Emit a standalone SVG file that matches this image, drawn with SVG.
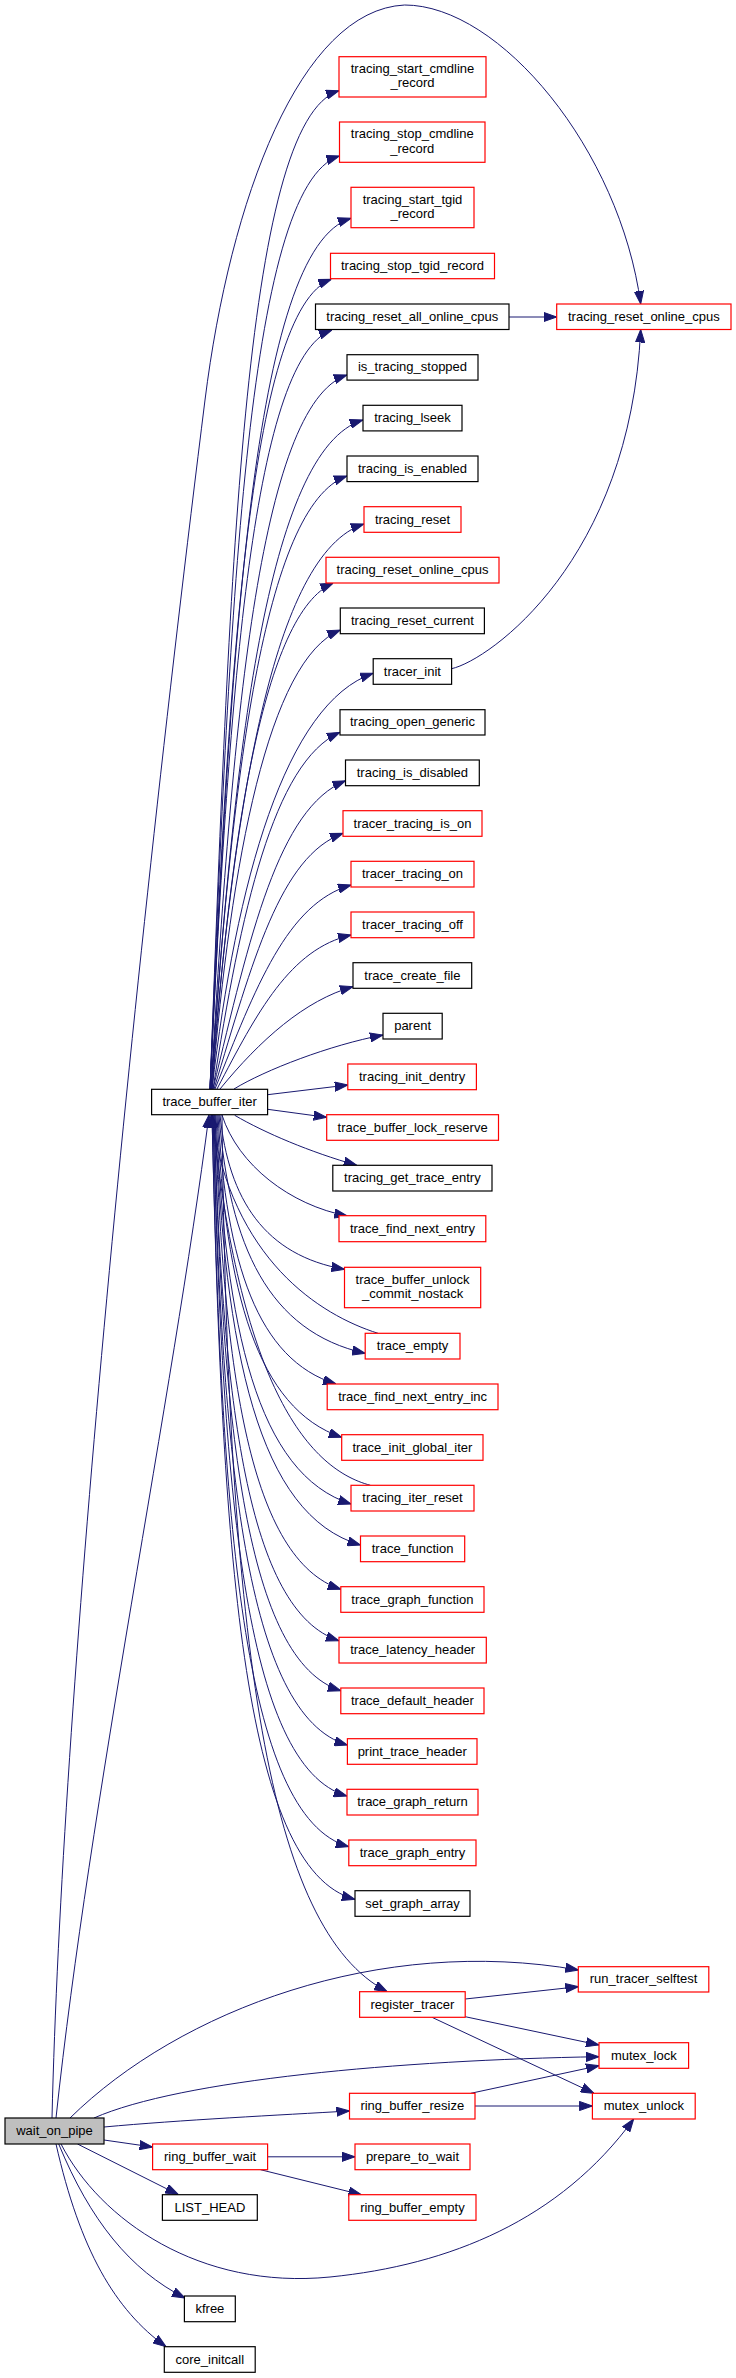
<svg xmlns="http://www.w3.org/2000/svg" width="736" height="2378" viewBox="0 0 736 2378">
<style>
.e path{fill:none;stroke:#191970;stroke-width:1;marker-end:url(#ah)}
.n rect{fill:#fff;stroke:#000;stroke-width:1.2}
.n.r rect{stroke:#ff0000}
.n.g rect{fill:#bfbfbf}
.n text{font-family:"Liberation Sans",Arial,Helvetica,sans-serif;font-size:13px;text-anchor:middle;fill:#000}
</style>
<defs>
<marker id="ah" viewBox="0 0 13 10" refX="13" refY="5" markerWidth="13" markerHeight="10" markerUnits="userSpaceOnUse" orient="auto">
<path d="M0,0.4 L13,5 L0,9.6 z" fill="#191970" stroke="#191970" stroke-width="1"/>
</marker>
</defs>
<rect width="736" height="2378" fill="#fff"/>
<g id="edges" class="e">
<path d="M210,1089 C229.4,589.9 242.4,120.7 339,90.7"/>
<path d="M210,1089 C229.4,622.5 245.4,186 339.4,156"/>
<path d="M210,1089 C231.2,653.7 251.6,248.3 351,218.3"/>
<path d="M210,1089 C228.2,684.2 248.4,309.3 331.4,279.3"/>
<path d="M210,1089 C228.3,709.5 250.7,360 331.9,330"/>
<path d="M211,1089 C231.4,732 258.6,405 346.9,375"/>
<path d="M211,1089 C233.8,754.5 266.6,450 362.8,420"/>
<path d="M211,1089 C231.4,782.5 263.4,506 346.9,476"/>
<path d="M211,1089 C233.9,806.5 272.4,554 363.8,524"/>
<path d="M212,1089 C230.2,836 263.3,613 333.3,583"/>
<path d="M212,1089 C231.2,859.5 268.4,660 340.3,630"/>
<path d="M212,1089 C236.2,881.2 285.3,703.3 373.2,673.3"/>
<path d="M213,1089 C240.9,910.7 273.3,762.3 339.9,732.3"/>
<path d="M213,1089 C250.1,934.9 278.2,808.4 345.5,780.7"/>
<path d="M214,1089 C252.7,961.2 279.9,856.3 343.1,833.3"/>
<path d="M215,1089 C255.8,987 287,903.4 351.1,885"/>
<path d="M217,1089 C257.2,1012 290.2,948.9 351.1,935"/>
<path d="M220,1089 C260,1040 305,1000 353,986.7"/>
<path d="M234,1089 C265,1070 330,1045 383,1035"/>
<path d="M267.6,1094.7 L347.8,1085"/>
<path d="M267.6,1109.3 L326.7,1117.3"/>
<path d="M234.7,1115.3 C265,1133 310,1152 356.7,1165.3"/>
<path d="M222,1115 C238,1165 290,1205 347.4,1216"/>
<path d="M220,1115 C228.7,1199.9 265,1255.4 344.5,1269.3"/>
<path d="M219,1115 C229.2,1246 268.7,1331.9 365.2,1353.3"/>
<path d="M218,1115 C226.3,1263 257.3,1359.8 336,1384"/>
<path d="M217,1115 C225.7,1292.3 256.8,1408.3 341.7,1437.3"/>
<path d="M216,1115 C225.5,1329 256.9,1474 351.1,1504"/>
<path d="M215,1115 C225.2,1351.5 257.6,1515 360.5,1545"/>
<path d="M215,1115 C223.8,1375.9 250.4,1559.3 340.8,1589.3"/>
<path d="M214,1115 C222.7,1404.1 247.6,1610.7 338.9,1640.7"/>
<path d="M214,1115 C222.9,1431.6 246.5,1660.7 340.8,1690.7"/>
<path d="M213,1115 C222.4,1461.5 245.6,1715 347.4,1745"/>
<path d="M213,1115 C222.4,1489.6 243.8,1766 346.9,1796"/>
<path d="M212,1115 C221.6,1517.4 241.7,1816.7 348.8,1846.7"/>
<path d="M212,1115 C222,1546.4 241.2,1869.3 354.9,1899.3"/>
<path d="M222,1115 C228,1650 268,1930 387.3,1991.7"/>
<path d="M56,2118 C90,1800 172,1400 209,1115"/>
<path d="M378,1333.3 C320,1315 232,1260 211,1115"/>
<path d="M370.4,1485.3 C305,1468 240,1380 212,1115"/>
<path d="M52,2118 C62,1700 130,1000 205,400 C230,200 300,10 404.6,5 C500,5 620,150 640.7,304"/>
<path d="M451.6,668.7 C490,660 630,560 640.7,329.5"/>
<path d="M509,317 L556.7,317"/>
<path d="M70,2118 C180,2010 380,1935 578.3,1970"/>
<path d="M465.2,1999 L578.3,1986.7"/>
<path d="M465.2,2016.7 L599,2045"/>
<path d="M432,2017.3 L594,2093.3"/>
<path d="M470.8,2093.3 L599,2065.7"/>
<path d="M475,2106 L592.4,2106"/>
<path d="M94,2118 C180,2080 400,2060 599,2056.7"/>
<path d="M104,2127 C180,2120 280,2115 349.5,2111"/>
<path d="M104,2140 L152.6,2147"/>
<path d="M267.6,2156.8 L355,2156.8"/>
<path d="M260.5,2169.7 L361.4,2194.7"/>
<path d="M77.5,2144 L178.4,2194.7"/>
<path d="M61,2144 C100,2220 200,2290 330,2277 C450,2265 560,2220 633.7,2119"/>
<path d="M58.7,2144 C90,2220 130,2270 185,2298"/>
<path d="M56,2144 C80,2250 115,2310 166,2346.7"/>
</g>
<g id="tracing_start_cmdline_record" class="n r"><rect x="339" y="56.7" width="147" height="40.3"/><text x="412.5" y="72.7">tracing_start_cmdline</text><text x="412.5" y="87.4">_record</text></g>
<g id="tracing_stop_cmdline_record" class="n r"><rect x="339.5" y="122" width="145.5" height="40.3"/><text x="412.3" y="138.1">tracing_stop_cmdline</text><text x="412.3" y="152.8">_record</text></g>
<g id="tracing_start_tgid_record" class="n r"><rect x="351" y="187.3" width="123" height="40.4"/><text x="412.5" y="203.5">tracing_start_tgid</text><text x="412.5" y="218.1">_record</text></g>
<g id="tracing_stop_tgid_record" class="n r"><rect x="330.5" y="253.3" width="164" height="25.4"/><text x="412.5" y="270">tracing_stop_tgid_record</text></g>
<g id="tracing_reset_all_online_cpus" class="n"><rect x="315.5" y="304" width="193.5" height="25.5"/><text x="412.3" y="320.8">tracing_reset_all_online_cpus</text></g>
<g id="tracing_reset_online_cpus_top" class="n r"><rect x="556.7" y="304" width="174.3" height="25.5"/><text x="643.9" y="320.8">tracing_reset_online_cpus</text></g>
<g id="is_tracing_stopped" class="n"><rect x="347" y="354.7" width="131" height="25.4"/><text x="412.5" y="371.4">is_tracing_stopped</text></g>
<g id="tracing_lseek" class="n"><rect x="363" y="405.3" width="99" height="25.6"/><text x="412.5" y="422.1">tracing_lseek</text></g>
<g id="tracing_is_enabled" class="n"><rect x="347" y="456" width="131" height="25.6"/><text x="412.5" y="472.8">tracing_is_enabled</text></g>
<g id="tracing_reset" class="n r"><rect x="364" y="506.7" width="97" height="25.6"/><text x="412.5" y="523.5">tracing_reset</text></g>
<g id="tracing_reset_online_cpus" class="n r"><rect x="326" y="557.3" width="173" height="25.7"/><text x="412.5" y="574.2">tracing_reset_online_cpus</text></g>
<g id="tracing_reset_current" class="n"><rect x="340.3" y="608" width="144.1" height="25.7"/><text x="412.4" y="624.9">tracing_reset_current</text></g>
<g id="tracer_init" class="n"><rect x="373.2" y="658.7" width="78.4" height="25.6"/><text x="412.4" y="675.5">tracer_init</text></g>
<g id="tracing_open_generic" class="n"><rect x="340" y="709.7" width="145" height="25.3"/><text x="412.5" y="726.4">tracing_open_generic</text></g>
<g id="tracing_is_disabled" class="n"><rect x="345.5" y="760" width="133.8" height="25.7"/><text x="412.4" y="776.9">tracing_is_disabled</text></g>
<g id="tracer_tracing_is_on" class="n r"><rect x="343" y="810.7" width="139" height="25.6"/><text x="412.5" y="827.5">tracer_tracing_is_on</text></g>
<g id="tracer_tracing_on" class="n r"><rect x="351" y="861.3" width="123" height="25.7"/><text x="412.5" y="878.2">tracer_tracing_on</text></g>
<g id="tracer_tracing_off" class="n r"><rect x="351" y="912" width="123" height="25.7"/><text x="412.5" y="928.9">tracer_tracing_off</text></g>
<g id="trace_create_file" class="n"><rect x="353" y="962.7" width="118.7" height="25.6"/><text x="412.4" y="979.5">trace_create_file</text></g>
<g id="parent" class="n"><rect x="383" y="1013.3" width="59.2" height="25.7"/><text x="412.6" y="1030.2">parent</text></g>
<g id="tracing_init_dentry" class="n r"><rect x="347.8" y="1064" width="128.6" height="25.7"/><text x="412.1" y="1080.9">tracing_init_dentry</text></g>
<g id="trace_buffer_iter" class="n"><rect x="151.6" y="1089.3" width="116" height="25.4"/><text x="209.6" y="1106">trace_buffer_iter</text></g>
<g id="trace_buffer_lock_reserve" class="n r"><rect x="326.7" y="1114.7" width="171.8" height="25.6"/><text x="412.6" y="1131.5">trace_buffer_lock_reserve</text></g>
<g id="tracing_get_trace_entry" class="n"><rect x="332.8" y="1165.3" width="159.2" height="25.7"/><text x="412.4" y="1182.2">tracing_get_trace_entry</text></g>
<g id="trace_find_next_entry" class="n r"><rect x="339" y="1215.7" width="146.8" height="26"/><text x="412.4" y="1232.7">trace_find_next_entry</text></g>
<g id="trace_buffer_unlock_commit_nostack" class="n r"><rect x="344.5" y="1267.3" width="136.2" height="40.4"/><text x="412.6" y="1283.5">trace_buffer_unlock</text><text x="412.6" y="1298.1">_commit_nostack</text></g>
<g id="trace_empty" class="n r"><rect x="365.2" y="1333.3" width="94.8" height="25.7"/><text x="412.6" y="1350.2">trace_empty</text></g>
<g id="trace_find_next_entry_inc" class="n r"><rect x="327.2" y="1384" width="170.8" height="25.7"/><text x="412.6" y="1400.9">trace_find_next_entry_inc</text></g>
<g id="trace_init_global_iter" class="n r"><rect x="341.7" y="1434.7" width="141.3" height="25.6"/><text x="412.4" y="1451.5">trace_init_global_iter</text></g>
<g id="tracing_iter_reset" class="n r"><rect x="351" y="1485.3" width="123" height="25.7"/><text x="412.5" y="1502.2">tracing_iter_reset</text></g>
<g id="trace_function" class="n r"><rect x="360.5" y="1536" width="104.2" height="25.7"/><text x="412.6" y="1552.9">trace_function</text></g>
<g id="trace_graph_function" class="n r"><rect x="340.8" y="1586.7" width="143.2" height="25.6"/><text x="412.4" y="1603.5">trace_graph_function</text></g>
<g id="trace_latency_header" class="n r"><rect x="339" y="1637.3" width="147.3" height="25.7"/><text x="412.7" y="1654.2">trace_latency_header</text></g>
<g id="trace_default_header" class="n r"><rect x="340.8" y="1688" width="143.2" height="25.7"/><text x="412.4" y="1704.9">trace_default_header</text></g>
<g id="print_trace_header" class="n r"><rect x="347.4" y="1738.7" width="129.6" height="25.6"/><text x="412.2" y="1755.5">print_trace_header</text></g>
<g id="trace_graph_return" class="n r"><rect x="347" y="1789.3" width="131" height="25.7"/><text x="412.5" y="1806.2">trace_graph_return</text></g>
<g id="trace_graph_entry" class="n r"><rect x="348.8" y="1840" width="127.2" height="25.7"/><text x="412.4" y="1856.9">trace_graph_entry</text></g>
<g id="set_graph_array" class="n"><rect x="355" y="1890.7" width="115" height="25.6"/><text x="412.5" y="1907.5">set_graph_array</text></g>
<g id="run_tracer_selftest" class="n r"><rect x="578.3" y="1966.7" width="130.5" height="25.3"/><text x="643.6" y="1983.4">run_tracer_selftest</text></g>
<g id="register_tracer" class="n r"><rect x="359.6" y="1991.7" width="105.6" height="25.6"/><text x="412.4" y="2008.5">register_tracer</text></g>
<g id="mutex_lock" class="n r"><rect x="599" y="2042.7" width="89.6" height="25.6"/><text x="643.8" y="2059.5">mutex_lock</text></g>
<g id="ring_buffer_resize" class="n r"><rect x="349.5" y="2093.3" width="125.5" height="25.7"/><text x="412.3" y="2110.2">ring_buffer_resize</text></g>
<g id="mutex_unlock" class="n r"><rect x="592.4" y="2093.3" width="102.8" height="25.7"/><text x="643.8" y="2110.2">mutex_unlock</text></g>
<g id="wait_on_pipe" class="n g"><rect x="5" y="2118" width="99" height="26"/><text x="54.5" y="2135">wait_on_pipe</text></g>
<g id="ring_buffer_wait" class="n r"><rect x="152.6" y="2144" width="115" height="25.7"/><text x="210.1" y="2160.9">ring_buffer_wait</text></g>
<g id="prepare_to_wait" class="n r"><rect x="355" y="2144" width="115" height="25.7"/><text x="412.5" y="2160.9">prepare_to_wait</text></g>
<g id="LIST_HEAD" class="n"><rect x="162.4" y="2194.7" width="94.9" height="25.6"/><text x="209.9" y="2211.5">LIST_HEAD</text></g>
<g id="ring_buffer_empty" class="n r"><rect x="348.8" y="2194.7" width="127.2" height="25.6"/><text x="412.4" y="2211.5">ring_buffer_empty</text></g>
<g id="kfree" class="n"><rect x="184.4" y="2296" width="50.9" height="25.7"/><text x="209.9" y="2312.9">kfree</text></g>
<g id="core_initcall" class="n"><rect x="164.3" y="2346.7" width="90.9" height="25.6"/><text x="209.8" y="2363.5">core_initcall</text></g>
</svg>
